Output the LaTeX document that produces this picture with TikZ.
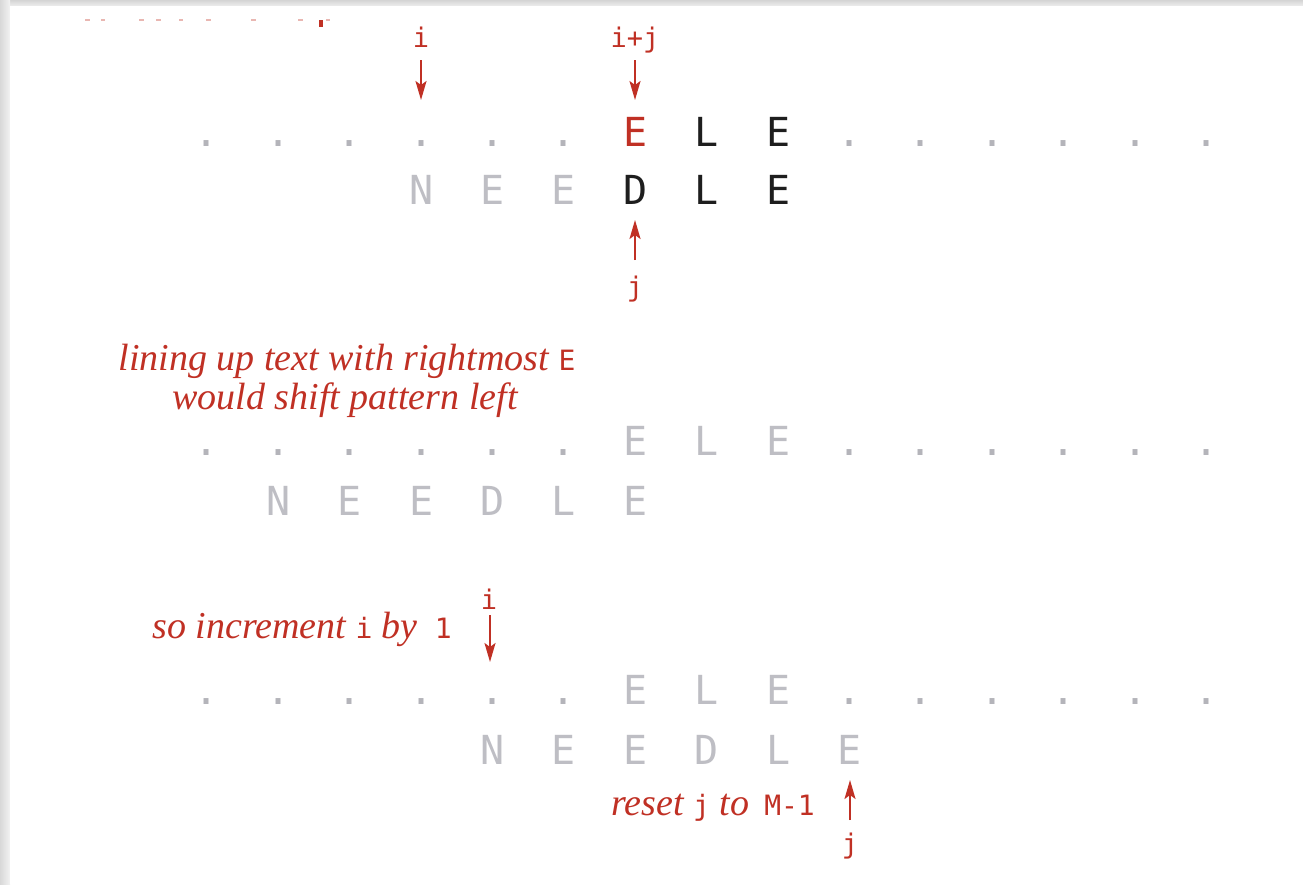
\documentclass[tikz,border=0pt]{standalone}
\usepackage{fontspec}
\newfontfamily\mono{DejaVu Sans Mono}
\newfontfamily\notefont{Liberation Serif}
\usetikzlibrary{arrows.meta}
\definecolor{bred}{RGB}{192,48,36}
\definecolor{lgray}{RGB}{190,190,196}
\definecolor{dotgray}{RGB}{180,180,186}
\definecolor{ink}{RGB}{30,30,30}
\definecolor{shadow}{RGB}{212,212,212}
\tikzset{
  ch/.style={anchor=base, inner sep=0pt, font=\mono\fontsize{40}{40}\selectfont},
  gch/.style={ch, text=lgray},
  dch/.style={ch, text=dotgray},
  kch/.style={ch, text=ink},
  rch/.style={ch, text=bred},
  lbl/.style={anchor=base, inner sep=0pt, text=bred, font=\mono\fontsize{27}{27}\selectfont},
  arr/.style={draw=bred, line width=2pt, -{Stealth[length=19pt,width=11pt,inset=4pt]}},
  note/.style={inner sep=0pt, text=bred, font=\notefont\itshape\fontsize{38}{42}\selectfont},
  frag/.style={draw=bred!35, line width=1.5pt},
}
\newcommand{\mtt}[1]{{\mono\upshape\fontsize{28}{28}\selectfont #1}}
\begin{document}
\begin{tikzpicture}[x=1pt,y=-1pt]
\useasboundingbox (0,0) rectangle (1303,884);
\fill[white] (0,0) rectangle (1303,884);
\shade[top color=shadow, bottom color=shadow!40] (0,0) rectangle (1303,6);
\shade[left color=shadow!90, right color=shadow!30] (0,0) rectangle (10,884);
\fill[white] (10,6) rectangle (1303,884);
% cut-off fragments at top
\foreach \a/\b in {85/90,101/105,139/144,156/161,179/183,206/211,251/256,298/303,326/330}
  \draw[frag] (\a,20) -- (\b,20);
\fill[bred] (319,20) rectangle (323,27);
% row 1 (text)
\foreach \k in {0,...,5,9,10,...,14}
  \node[dch] (r1c\k) at ({207+71.4*\k},146) {.};
\node[rch] (r1c6) at ({207+71.4*6},146) {E};
\node[kch] (r1c7) at ({207+71.4*7},146) {L};
\node[kch] (r1c8) at ({207+71.4*8},146) {E};
% row 2 (pattern)
\foreach \k/\c in {3/N,4/E,5/E}
  \node[gch] (r2c\k) at ({207+71.4*\k},204) {\c};
\foreach \k/\c in {6/D,7/L,8/E}
  \node[kch] (r2c\k) at ({207+71.4*\k},204) {\c};
% labels and arrows, top
\node[lbl] (li1) at (421,47) {i};
\node[lbl] (lij) at (635,47) {i+j};
\node[lbl] (lj1) at (635,296) {j};
\coordinate (ai1s) at (421,60); \coordinate (ai1e) at (421,100);
\coordinate (aijs) at (635,60); \coordinate (aije) at (635,100);
\coordinate (aj1s) at (635,260); \coordinate (aj1e) at (635,220);
\draw[arr] (ai1s) -- (ai1e);
\draw[arr] (aijs) -- (aije);
\draw[arr] (aj1s) -- (aj1e);
% note 1
\node[note, anchor=base] (n1a) at (347,370) {lining up text with rightmost \mtt{E}};
\node[note, anchor=base] (n1b) at (345,409) {would shift pattern left};
% row 3
\foreach \k in {0,...,5,9,10,...,14}
  \node[dch] (r3c\k) at ({207+71.4*\k},455) {.};
\foreach \k/\c in {6/E,7/L,8/E}
  \node[gch] (r3c\k) at ({207+71.4*\k},455) {\c};
% row 4
\foreach \k/\c in {1/N,2/E,3/E,4/D,5/L,6/E}
  \node[gch] (r4c\k) at ({207+71.4*\k},515) {\c};
% note 2
\node[note, anchor=base east] (n2) at (452,638) {so increment \mtt{i} by\hspace{0.45em}\mtt{1}};
\node[lbl] (li2) at (489,609) {i};
\coordinate (ai2s) at (490,615); \coordinate (ai2e) at (490,662);
\draw[arr] (ai2s) -- (ai2e);
% row 5
\foreach \k in {0,...,5,9,10,...,14}
  \node[dch] (r5c\k) at ({207+71.4*\k},704) {.};
\foreach \k/\c in {6/E,7/L,8/E}
  \node[gch] (r5c\k) at ({207+71.4*\k},704) {\c};
% row 6
\foreach \k/\c in {4/N,5/E,6/E,7/D,8/L,9/E}
  \node[gch] (r6c\k) at ({207+71.4*\k},764) {\c};
% note 3
\node[note, anchor=base west] (n3) at (611,815) {reset \mtt{j} to\hspace{0.4em}\mtt{M-1}};
\node[lbl] (lj2) at (850,853) {j};
\coordinate (aj2s) at (850,820); \coordinate (aj2e) at (850,780);
\draw[arr] (aj2s) -- (aj2e);
\end{tikzpicture}
\end{document}
